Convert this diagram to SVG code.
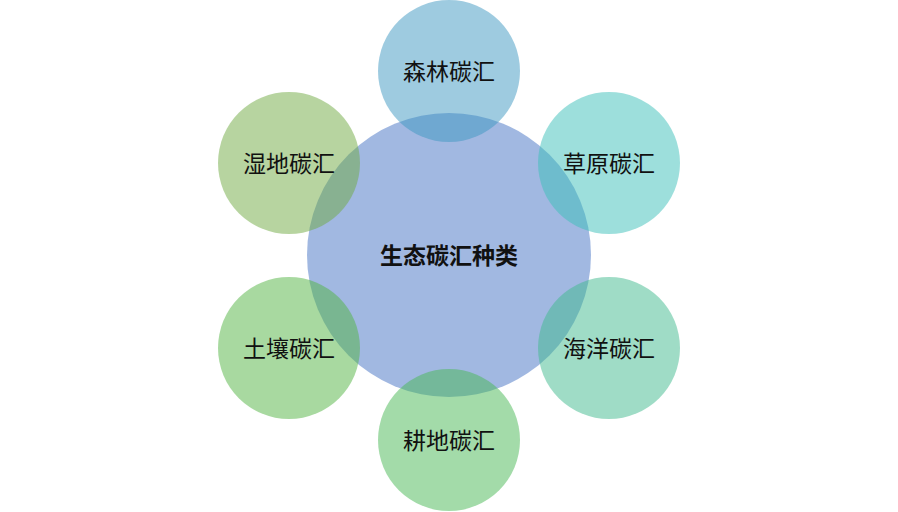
<svg xmlns="http://www.w3.org/2000/svg" width="898" height="512" viewBox="0 0 898 512">
<style>
.sat{fill-opacity:0.5}
.lbl{font-family:"Liberation Serif","Noto Sans CJK SC",serif;font-size:23px;fill:#111;text-anchor:middle;dominant-baseline:central}
.ctr{font-weight:bold}
</style>
<rect width="898" height="512" fill="#ffffff"/>
<g id="center">
<circle cx="449" cy="255" r="142" fill="#4472C4" fill-opacity="0.5"/>
<text class="lbl ctr" x="449" y="256">生态碳汇种类</text>
</g>
<g id="connectors"></g>
<g id="forest">
<circle class="sat" cx="449" cy="71" r="71" fill="#3d97c1"/>
<text class="lbl" x="449" y="72">森林碳汇</text>
</g>
<g id="grassland">
<circle class="sat" cx="609" cy="163" r="71" fill="#3bbfb9"/>
<text class="lbl" x="609" y="164">草原碳汇</text>
</g>
<g id="ocean">
<circle class="sat" cx="609" cy="348" r="71" fill="#3fb98d"/>
<text class="lbl" x="609" y="349">海洋碳汇</text>
</g>
<g id="farmland">
<circle class="sat" cx="449" cy="440" r="71" fill="#47b753"/>
<text class="lbl" x="449" y="441">耕地碳汇</text>
</g>
<g id="soil">
<circle class="sat" cx="289" cy="348" r="71" fill="#51b341"/>
<text class="lbl" x="289" y="349">土壤碳汇</text>
</g>
<g id="wetland">
<circle class="sat" cx="289" cy="163" r="71" fill="#6fa941"/>
<text class="lbl" x="289" y="164">湿地碳汇</text>
</g>
</svg>
